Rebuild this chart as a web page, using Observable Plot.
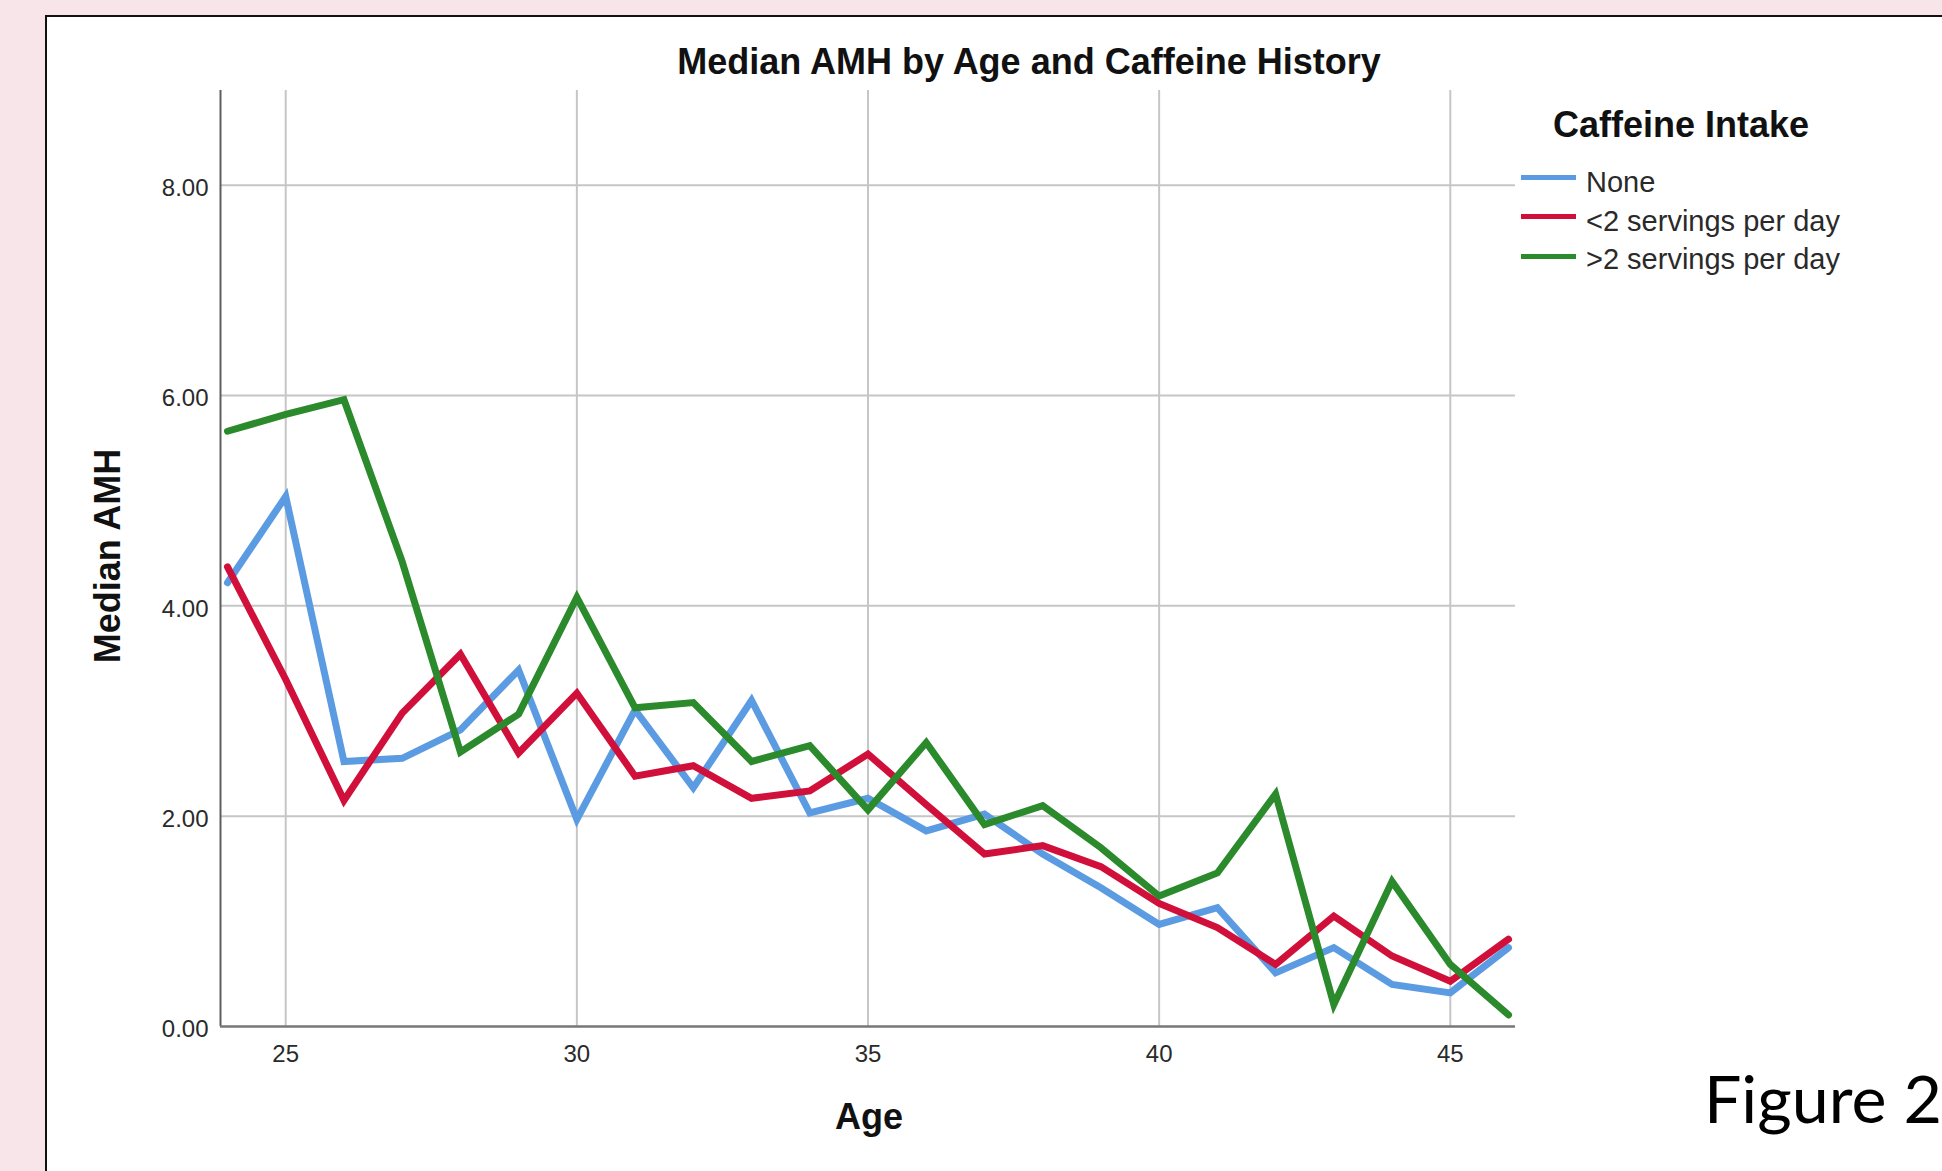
<!DOCTYPE html>
<html>
<head>
<meta charset="utf-8">
<script src="https://cdn.jsdelivr.net/npm/d3@7"></script>
<script src="https://cdn.jsdelivr.net/npm/@observablehq/plot@0.6"></script>
<style>
  html, body { margin: 0; padding: 0; }
  body { width: 1942px; height: 1171px; overflow: hidden; position: relative;
         background: #f7e5ea; font-family: "Liberation Sans", Arial, sans-serif; }
  .frame { position: absolute; left: 45px; top: 15px; width: 1960px; height: 1200px;
           background: #fff; border-left: 2px solid #111; border-top: 2px solid #111; box-sizing: border-box; }
  .t { position: absolute; white-space: nowrap; line-height: 1; color: #111; }
  #chart { position: absolute; left: 0; top: 0; }
  .sw { position: absolute; height: 5px; width: 55px; }
</style>
</head>
<body>
<div class="frame"></div>
<div id="chart"></div>
<div id="texts"></div>
<script>
// ---- data ----
const ages = [24, 25, 26, 27, 28, 29, 30, 31, 32, 33, 34, 35, 36, 37, 38, 39, 40, 41, 42, 43, 44, 45, 46];
const noneAMH = [4.22, 5.04, 2.52, 2.55, 2.82, 3.39, 1.97, 3.01, 2.27, 3.10, 2.03, 2.17, 1.86, 2.02, 1.64, 1.32, 0.97, 1.13, 0.51, 0.75, 0.40, 0.32, 0.75];
const lt2AMH  = [4.37, 3.30, 2.15, 2.98, 3.54, 2.60, 3.17, 2.38, 2.48, 2.17, 2.24, 2.59, 2.11, 1.64, 1.72, 1.52, 1.17, 0.94, 0.59, 1.05, 0.67, 0.43, 0.83];
const gt2AMH  = [5.66, 5.82, 5.96, 4.42, 2.61, 2.97, 4.08, 3.03, 3.08, 2.52, 2.67, 2.06, 2.70, 1.92, 2.10, 1.70, 1.24, 1.46, 2.21, 0.21, 1.38, 0.59, 0.11];
const groups = ["None", "<2 servings per day", ">2 servings per day"];
const colors = ["#5b9be2", "#d0103a", "#2b8a2b"];
const xTicks = [25, 30, 35, 40, 45];
const yTicks = [0, 2, 4, 6, 8];
const xDomain = [23.88, 46.12];
const yDomain = [0, 8.9];
const titleText = "Median AMH by Age and Caffeine History";
const legendTitle = "Caffeine Intake";
const xLabel = "Age";
const yLabel = "Median AMH";
const figureLabel = "Figure 2";

const series = [noneAMH, lt2AMH, gt2AMH];
const rows = [];
series.forEach((vals, gi) => vals.forEach((v, i) => rows.push({age: ages[i], amh: v, group: groups[gi]})));

const W = 1560, H = 1160;
const chart = Plot.plot({
  width: W, height: H,
  marginLeft: 220, marginRight: W - 1515, marginTop: 90, marginBottom: H - 1026,
  style: {background: "transparent", fontFamily: "'Liberation Sans', Arial, sans-serif", fontSize: "24px", color: "#222", overflow: "visible"},
  x: {domain: xDomain},
  y: {domain: yDomain},
  color: {domain: groups, range: colors},
  marks: [
    Plot.gridX(xTicks, {stroke: "#c6c6c6", strokeOpacity: 1, strokeWidth: 2}),
    Plot.gridY(yTicks.filter(d => d > 0), {stroke: "#c6c6c6", strokeOpacity: 1, strokeWidth: 2}),
    Plot.ruleX([xDomain[0]], {stroke: "#5e5e5e", strokeWidth: 2}),
    Plot.ruleY([0], {stroke: "#777", strokeWidth: 2.5}),
    Plot.lineY(rows, {x: "age", y: "amh", stroke: "group", z: "group", strokeWidth: 7, strokeLinejoin: "miter", strokeMiterlimit: 6}),
    Plot.axisX({ticks: xTicks, tickSize: 0, tickPadding: 18, label: null, fill: "#2a2a2a", fontSize: 24}),
    Plot.axisY({ticks: yTicks, tickSize: 0, tickPadding: 12, tickFormat: d3.format(".2f"), label: null, fill: "#2a2a2a", fontSize: 24, dy: 3})
  ]
});
document.getElementById("chart").appendChild(chart);

// ---- texts & legend ----
const T = document.getElementById("texts");
function addText(str, {left, baseline, size, weight = "normal", anchor = "start", family = null, rotate = false, color = null}) {
  const d = document.createElement("div");
  d.className = "t";
  d.textContent = str;
  d.style.fontSize = size + "px";
  d.style.fontWeight = weight;
  if (family) d.style.fontFamily = family;
  if (color) d.style.color = color;
  if (rotate) {
    d.style.left = left + "px";
    d.style.top = baseline + "px";
    d.style.transform = "translate(-50%,-50%) rotate(-90deg)";
  } else {
    d.style.left = left + "px";
    d.style.top = (baseline - 0.8465 * size) + "px";
    if (anchor === "middle") d.style.transform = "translateX(-50%)";
  }
  T.appendChild(d);
  return d;
}
addText(titleText, {left: 1029, baseline: 74.5, size: 36, weight: "bold", anchor: "middle"});
addText(yLabel, {left: 108, baseline: 556, size: 36, weight: "bold", rotate: true});
addText(xLabel, {left: 869, baseline: 1129, size: 36, weight: "bold", anchor: "middle"});
addText(legendTitle, {left: 1553, baseline: 137, size: 36, weight: "bold"});

const swY = [177.5, 216.7, 256];
const txB = [193, 231.5, 270];
groups.forEach((g, i) => {
  const s = document.createElement("div");
  s.className = "sw";
  s.style.left = "1521px";
  s.style.top = (swY[i] - 2.5) + "px";
  s.style.background = colors[i];
  T.appendChild(s);
  addText(g, {left: 1586, baseline: txB[i], size: 29, color: "#2a2a2a"});
});

const fig = addText(figureLabel, {left: 1704, baseline: 1121, size: 72, family: "Lato, 'Open Sans', sans-serif", color: "#000"});
const w = fig.getBoundingClientRect().width;
const fs = 72 * 238 / w;
fig.style.fontSize = fs + "px";
fig.style.top = (1121 - 0.8465 * fs) + "px";
</script>
</body>
</html>
